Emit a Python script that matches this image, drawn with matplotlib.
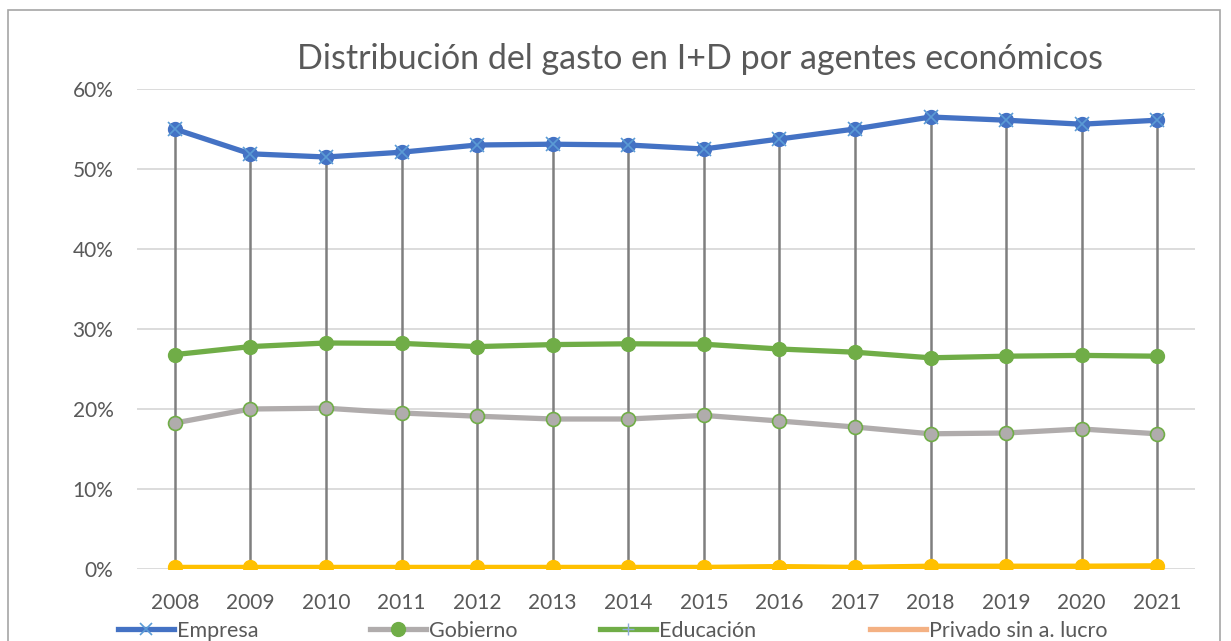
import matplotlib
matplotlib.use("Agg")
import matplotlib.pyplot as plt
from matplotlib.patches import Rectangle
from matplotlib.ticker import FuncFormatter
from matplotlib.lines import Line2D
import numpy as np

plt.rcParams['font.family'] = ['Lato', 'DejaVu Sans']

years = ['2008', '2009', '2010', '2011', '2012', '2013', '2014',
         '2015', '2016', '2017', '2018', '2019', '2020', '2021']
empresa = [55.0, 51.9, 51.5, 52.1, 53.0, 53.1, 53.0, 52.5, 53.75, 55.0, 56.5, 56.1, 55.6, 56.1]
gobierno = [18.25, 20.0, 20.1, 19.5, 19.1, 18.75, 18.75, 19.2, 18.5, 17.75, 16.9, 17.0, 17.5, 16.9]
educacion = [26.8, 27.8, 28.25, 28.2, 27.8, 28.05, 28.15, 28.1, 27.5, 27.1, 26.4, 26.6, 26.7, 26.6]
privado = [0.15, 0.15, 0.15, 0.15, 0.15, 0.15, 0.15, 0.15, 0.2, 0.15, 0.25, 0.25, 0.25, 0.3]
otro = [0.2, 0.2, 0.2, 0.2, 0.2, 0.2, 0.2, 0.2, 0.3, 0.2, 0.35, 0.35, 0.35, 0.4]
labels = ['Empresa', 'Gobierno', 'Educación', 'Privado sin a. lucro']

W, H = 1231, 641
fig = plt.figure(figsize=(W / 100, H / 100), dpi=100)
ax = fig.add_axes([137 / W, 1 - 569 / H, (1195 - 137) / W, (569 - 89) / H])

x = np.arange(len(years))
allv = np.array([empresa, gobierno, educacion, privado, otro]) / 100
hi = allv.max(axis=0)
lo = allv.min(axis=0)
ax.vlines(x, lo, hi, color='#7f7f7f', lw=1.8, zorder=2)

e = np.array(empresa) / 100
g = np.array(gobierno) / 100
ed = np.array(educacion) / 100
p = np.array(privado) / 100
o = np.array(otro) / 100

lw = 3.8
ax.plot(x, p, color='#F4B183', lw=lw, zorder=3)
ax.plot(x, o, color='#FFC000', lw=lw, marker='o', ms=10, mec='#FFC000', zorder=4)
ax.plot(x, g, color='#B0ACAC', lw=lw, marker='o', ms=10, mfc='#B0ACAC', mec='#70AD47', mew=1.2, zorder=4)
ax.plot(x, ed, color='#70AD47', lw=lw, marker='o', ms=10, mec='#70AD47', zorder=4)
ax.plot(x, e, color='#4472C4', lw=lw, marker='o', ms=10, mec='#4472C4', zorder=4)
ax.plot(x, e, ls='none', marker='x', ms=10, mec='#5B9BD5', mew=1.2, zorder=5)

ax.set_xlim(-0.5, len(years) - 0.5)
ax.set_ylim(0, 0.6)
ax.set_yticks(np.arange(0, 0.61, 0.1))
ax.yaxis.set_major_formatter(FuncFormatter(lambda v, _: f"{v*100:.0f}%"))
ax.set_xticks(x)
ax.set_xticklabels(years)
ax.grid(axis='y', color='#D9D9D9', lw=1.3, zorder=0)
ax.set_axisbelow(True)
for s in ax.spines.values():
    s.set_visible(False)
ax.tick_params(axis='both', length=0, colors='#595959', labelsize=15)
ax.tick_params(axis='y', pad=17)
ax.tick_params(axis='x', pad=17)

fig.text(700 / W, 1 - 59 / H, 'Distribución del gasto en I+D por agentes económicos',
         ha='center', va='center', fontsize=24.5, color='#595959')

handles = [
    Line2D([], [], color='#4472C4', lw=lw, marker='x', ms=9, mec='#5B9BD5', mew=1.2),
    Line2D([], [], color='#B0ACAC', lw=lw, marker='o', ms=10, mfc='#70AD47', mec='#70AD47'),
    Line2D([], [], color='#70AD47', lw=lw, marker='+', ms=9, mec='#8FAADC'),
    Line2D([], [], color='#F4B183', lw=lw),
]
starts = [118, 370, 600, 870]
for hnd, lab, sx in zip(handles, labels, starts):
    fig.legend([hnd], [lab], loc='center left', bbox_to_anchor=(sx / W, 1 - 631 / H),
               frameon=False, fontsize=15.5, handlelength=2.6, handletextpad=0.15,
               borderpad=0, borderaxespad=0, labelcolor='#595959')

fig.patches.append(Rectangle((8 / W, -0.05), (1220 - 8) / W, 1 - 10 / H + 0.05,
                             transform=fig.transFigure, fill=False, ec='#A6A6A6', lw=1.2))

fig.savefig('out.png', dpi=100)
